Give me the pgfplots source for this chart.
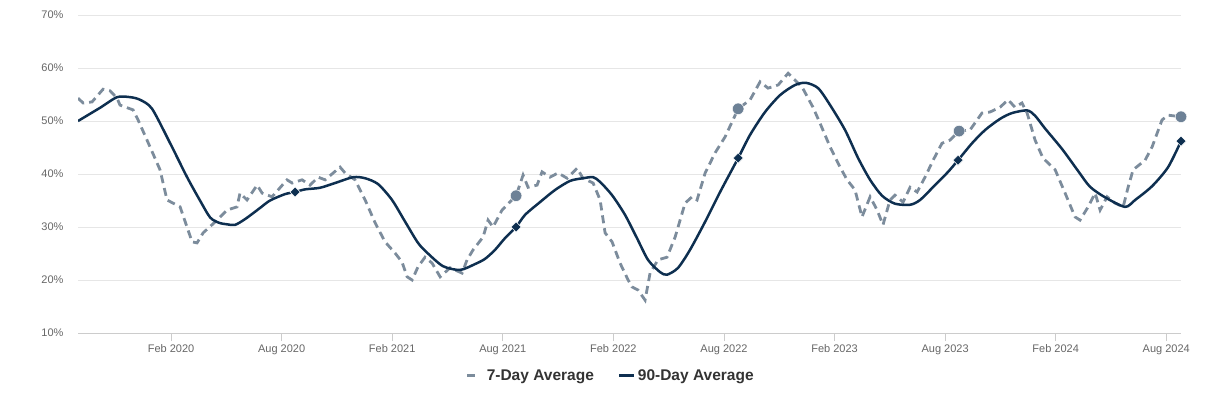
\documentclass[border=0pt]{standalone}
\usepackage{pgfplots}
\pgfplotsset{compat=1.18}
\usepackage{fontspec}
\setmainfont{Liberation Sans}
\definecolor{navy}{HTML}{0E2F50}
\definecolor{sevenday}{HTML}{7C8C9C}
\definecolor{dotc}{HTML}{6D8196}
\definecolor{gridc}{HTML}{E6E6E6}
\definecolor{tickc}{HTML}{666666}
\definecolor{legc}{HTML}{333333}
\definecolor{axc}{HTML}{CCCCCC}
\begin{document}
\begin{tikzpicture}[x=1pt,y=1pt]
\begin{axis}[
  at={(0pt,0pt)}, anchor=south west,
  scale only axis, width=1103pt, height=318pt,
  xmin=-5.05, xmax=54.8, ymin=10, ymax=70,
  axis x line*=bottom, axis y line*=left,
  separate axis lines,
  x axis line style={draw=axc, line width=1pt, -},
  y axis line style={draw=none},
  ymajorgrids, grid style={draw=gridc, line width=0.9pt},
  xtick={0,6,...,54},
  xticklabels={Feb 2020,Aug 2020,Feb 2021,Aug 2021,Feb 2022,Aug 2022,Feb 2023,Aug 2023,Feb 2024,Aug 2024},
  xtick style={draw=axc, line width=0.8pt},
  major tick length=8pt, tick align=outside,
  ytick={10,20,...,70},
  yticklabels={10\%,20\%,30\%,40\%,50\%,60\%,70\%},
  ytick style={draw=none},
  tick label style={font=\fontsize{11}{13}\selectfont, text=tickc},
  yticklabel style={anchor=east, xshift=-3pt},
  legend style={at={(0.483,-0.135)}, anchor=center, draw=none, fill=none,
    legend columns=2, font=\bfseries\fontsize{15.5}{18}\selectfont, text=legc,
    /tikz/every even column/.append style={column sep=22pt}},
  legend cell align=left,
]
\addplot[sevenday, line width=2.8pt, dash pattern=on 8pt off 5pt,
  legend image code/.code={\draw[sevenday, line width=3pt] (0pt,0pt) -- (10pt,0pt); \path (16pt,0pt);}]
coordinates {
(-5.05,54.3) (-4.77,53.4) (-4.29,53.6) (-3.69,56.0) (-3.31,55.7) (-2.93,54.3)
(-2.77,53.0) (-2.06,52.1) (-1.79,50.2) (-1.14,45.1) (-0.60,40.8) (-0.22,35.1)
(0.49,33.8) (1.14,27.2) (1.41,27.0) (1.74,28.9) (2.50,31.3) (3.04,33.2)
(3.58,33.8) (3.74,36.4) (4.12,35.1) (4.67,37.9) (4.94,36.4) (5.48,35.7)
(6.29,38.9) (6.57,38.3) (7.11,38.9) (7.54,37.9) (7.98,39.4) (8.36,38.9)
(9.17,41.3) (9.44,40.2) (9.98,38.9) (10.53,35.1) (11.07,30.8) (11.61,27.2)
(12.15,25.1) (12.53,23.4) (12.81,20.6) (13.08,20.0) (13.40,22.5) (13.78,24.3)
(14.16,23.2) (14.60,20.6) (15.14,22.3) (15.79,21.3) (16.06,23.8) (16.39,25.7)
(16.93,28.1) (17.20,31.3) (17.47,30.0) (17.96,33.2) (18.72,35.9) (19.10,39.8)
(19.37,37.5) (19.86,37.9) (20.13,40.4) (20.56,39.4) (21.00,40.2) (21.49,39.2)
(22.03,41.1) (22.35,39.2) (22.90,38.3) (23.28,35.1) (23.55,28.9) (23.93,27.2)
(24.36,23.2) (24.80,20.0) (25.01,18.7) (25.34,18.1) (25.72,16.2) (25.99,21.3)
(26.42,23.8) (26.91,24.3) (27.35,28.1) (27.89,34.5) (28.27,35.7) (28.54,35.1)
(28.98,40.2) (29.52,44.0) (30.06,47.0) (30.77,52.3) (31.42,54.0) (31.96,57.4)
(32.39,56.2) (32.94,56.8) (33.48,59.0) (34.24,56.4) (34.83,52.6) (35.21,49.6)
(35.76,45.1) (36.30,41.3) (36.68,38.9) (37.11,37.0) (37.49,31.9) (37.93,35.7)
(38.31,33.2) (38.63,30.4) (39.01,35.1) (39.28,36.0) (39.72,34.7) (40.10,37.5)
(40.48,36.6) (40.91,39.4) (41.35,42.6) (41.83,45.8) (42.27,46.4) (42.76,48.1)
(43.35,48.3) (44.00,51.5) (44.44,51.7) (44.98,52.6) (45.42,54.0) (45.79,52.6)
(46.17,53.4) (46.45,51.5) (46.88,46.4) (47.31,43.0) (47.97,40.8) (48.51,36.4)
(49.05,31.9) (49.32,31.3) (49.76,33.8) (50.14,36.4) (50.41,33.2) (50.79,35.7)
(51.22,34.5) (51.66,33.8) (51.93,37.5) (52.20,40.8) (52.85,42.6) (53.23,45.1)
(53.77,50.2) (54.10,51.1) (54.80,50.8)
};
\addlegendentry{7-Day Average}
\addplot[navy, line width=2.5pt, smooth, tension=0.45,
  legend image code/.code={\draw[navy, line width=3pt] (0pt,0pt) -- (15pt,0pt);}]
coordinates {
(-5.05,50.0) (-3.85,52.5) (-2.93,54.5) (-2.22,54.5) (-1.68,54.0) (-1.03,52.3)
(-0.05,45.8) (0.87,39.4) (1.57,35.0) (2.12,31.8) (2.60,30.8) (3.05,30.5) (3.47,30.4)
(4.02,31.5) (4.83,33.6) (5.37,35.0) (6.18,36.2) (6.73,36.6) (7.27,37.1)
(8.08,37.4) (8.90,38.3) (9.88,39.4) (10.53,39.2) (11.23,38.1) (11.99,35.1)
(12.70,31.0) (13.40,27.0) (13.94,25.0) (14.76,22.6) (15.68,21.9) (16.49,23.0)
(17.04,24.0) (17.58,25.7) (18.12,27.9) (18.72,30.0) (19.21,32.3) (20.02,34.7)
(20.84,37.0) (21.65,38.7) (22.35,39.2) (22.90,39.4) (23.28,38.5) (23.93,36.0)
(24.63,32.3) (25.28,27.9) (25.88,23.8) (26.53,21.5) (26.91,21.0) (27.51,22.3)
(28.16,25.7) (28.98,31.0) (29.79,36.6) (30.77,43.0) (31.42,47.4) (32.23,51.7)
(33.05,54.9) (33.86,56.8) (34.45,57.2) (35.11,56.2) (35.76,53.0) (36.57,48.3)
(37.28,43.0) (37.93,38.9) (38.58,35.9) (39.28,34.4) (40.10,34.2) (40.64,35.1)
(41.45,37.9) (42.16,40.4) (42.70,42.6) (43.46,45.8) (44.17,48.3) (44.98,50.4)
(45.63,51.5) (46.45,52.0) (46.88,51.0) (47.42,48.6) (48.35,44.7) (49.21,40.6)
(49.86,37.6) (50.68,35.6) (51.76,33.8) (52.31,35.1) (53.23,37.7) (54.10,41.3)
(54.80,46.2)
};
\addlegendentry{90-Day Average}
\addplot[only marks, mark=*, mark size=5.8pt, mark options={fill=dotc, draw=white, line width=0.5pt}, forget plot]
coordinates {(18.72,35.9) (30.77,52.3) (42.76,48.1) (54.80,50.8)};
\addplot[only marks, mark=square*, mark size=3.6pt, mark options={rotate=45, fill=navy, draw=white, line width=0.5pt}, forget plot]
coordinates {(6.73,36.6) (18.72,30.0) (30.77,43.0) (42.70,42.6) (54.80,46.2)};
\end{axis}
\pgfresetboundingbox
\path[use as bounding box] (-78pt,-59pt) rectangle (1146pt,333pt);
\end{tikzpicture}
\end{document}
